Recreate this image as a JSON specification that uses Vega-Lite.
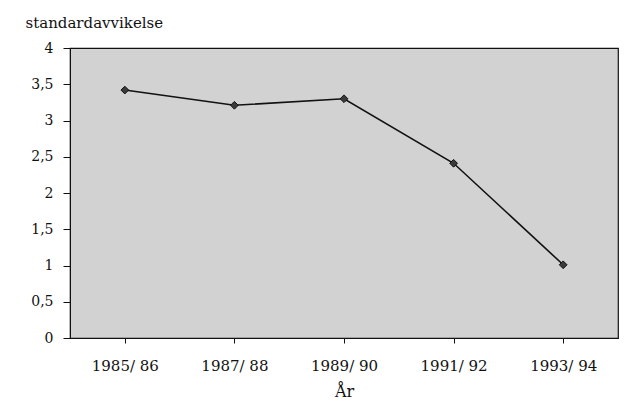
{
  "$schema": "https://vega.github.io/schema/vega-lite/v6.json",
  "width": 548,
  "height": 290,
  "autosize": {"type": "none"},
  "padding": {"left": 70, "top": 48, "right": 8, "bottom": 77},
  "background": "white",
  "config": {
    "font": "DejaVu Serif",
    "view": {"fill": "#d2d2d2", "stroke": "#111", "strokeWidth": 1.2},
    "axis": {
      "labelFont": "DejaVu Serif",
      "titleFont": "DejaVu Serif",
      "labelColor": "#111",
      "titleColor": "#111",
      "domainColor": "#111",
      "tickColor": "#111",
      "grid": false
    }
  },
  "data": {
    "values": [
      {"ar": "1985/ 86", "sd": 3.42},
      {"ar": "1987/ 88", "sd": 3.21},
      {"ar": "1989/ 90", "sd": 3.3},
      {"ar": "1991/ 92", "sd": 2.41},
      {"ar": "1993/ 94", "sd": 1.01}
    ]
  },
  "encoding": {
    "x": {
      "field": "ar",
      "type": "ordinal",
      "sort": null,
      "scale": {"paddingInner": 0, "paddingOuter": 0},
      "axis": {
        "title": "År",
        "labelAngle": 0,
        "labelFontSize": 15,
        "titleFontSize": 16,
        "titleFontWeight": "normal",
        "labelPadding": 15,
        "titlePadding": 10,
        "bandPosition": 0,
        "tickSize": 5
      }
    },
    "y": {
      "field": "sd",
      "type": "quantitative",
      "scale": {"domain": [0, 4]},
      "axis": {
        "values": [0, 0.5, 1, 1.5, 2, 2.5, 3, 3.5, 4],
        "format": ".1~f",
        "labelExpr": "replace(datum.label, '.', ',')",
        "labelFontSize": 14,
        "labelPadding": 10,
        "tickSize": 7,
        "title": "standardavvikelse",
        "titleAngle": 0,
        "titleAlign": "left",
        "titleBaseline": "middle",
        "titleX": -45,
        "titleY": -26,
        "titleFontSize": 15,
        "titleFontWeight": "normal"
      }
    }
  },
  "layer": [
    {"mark": {"type": "line", "color": "#111", "strokeWidth": 1.6}},
    {"mark": {"type": "point", "shape": "diamond", "filled": true, "color": "#3a3a3a", "stroke": "#111", "strokeWidth": 1, "size": 60, "opacity": 1}}
  ]
}
